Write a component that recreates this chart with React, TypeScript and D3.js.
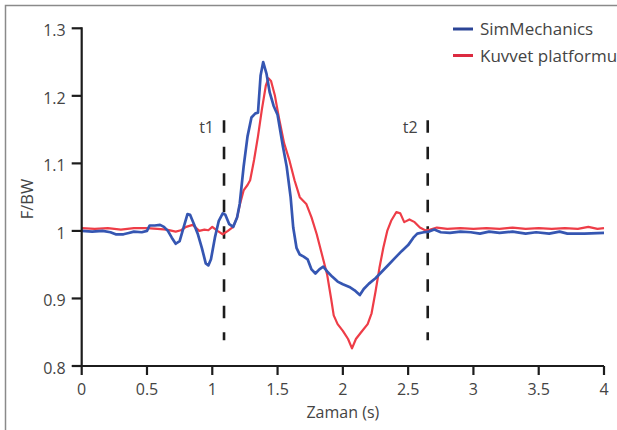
import React, { Component, CSSProperties } from 'react'
import * as d3 from 'd3'

type Sample = [number, number]

// [time (s), F/BW]
const simMechanics: Sample[] = [
    [0, 1.0], [0.08, 0.999], [0.16, 1.0], [0.22, 0.998], [0.26, 0.995], [0.32, 0.995], [0.36, 0.997],
    [0.4, 0.999], [0.46, 0.998], [0.5, 1.0], [0.52, 1.008], [0.56, 1.008], [0.6, 1.009], [0.63, 1.006],
    [0.66, 1.0], [0.69, 0.99], [0.72, 0.981], [0.75, 0.985], [0.78, 1.005], [0.81, 1.025], [0.83, 1.024],
    [0.86, 1.01], [0.89, 0.995], [0.92, 0.975], [0.95, 0.952], [0.97, 0.949], [0.99, 0.958], [1.02, 0.99],
    [1.05, 1.015], [1.08, 1.026], [1.1, 1.024], [1.13, 1.01], [1.16, 1.006], [1.19, 1.02], [1.21, 1.04],
    [1.24, 1.095], [1.27, 1.14], [1.3, 1.168], [1.33, 1.174], [1.35, 1.175], [1.37, 1.23], [1.39, 1.25],
    [1.415, 1.233], [1.44, 1.205], [1.47, 1.185], [1.5, 1.172], [1.54, 1.126], [1.57, 1.095], [1.6, 1.05],
    [1.62, 1.005], [1.645, 0.975], [1.67, 0.965], [1.7, 0.962], [1.73, 0.958], [1.76, 0.943], [1.79, 0.937],
    [1.82, 0.943], [1.85, 0.947], [1.88, 0.94], [1.92, 0.932], [1.96, 0.925], [2.0, 0.921], [2.05, 0.917],
    [2.09, 0.912], [2.13, 0.905], [2.16, 0.914], [2.2, 0.922], [2.25, 0.93], [2.3, 0.94], [2.35, 0.95],
    [2.4, 0.96], [2.45, 0.97], [2.5, 0.979], [2.54, 0.99], [2.57, 0.996], [2.62, 0.998], [2.66, 0.999],
    [2.7, 1.002], [2.75, 0.998], [2.82, 0.997], [2.9, 0.999], [2.98, 0.998], [3.05, 0.996], [3.12, 0.999],
    [3.2, 0.997], [3.3, 0.999], [3.4, 0.996], [3.48, 0.998], [3.58, 0.996], [3.66, 0.999], [3.72, 0.996],
    [3.85, 0.996], [4.0, 0.997]
]

const kuvvetPlatformu: Sample[] = [
    [0, 1.004], [0.1, 1.003], [0.2, 1.004], [0.3, 1.002], [0.4, 1.004], [0.5, 1.004], [0.58, 1.003],
    [0.65, 1.002], [0.72, 0.999], [0.76, 1.001], [0.8, 1.006], [0.85, 1.009], [0.9, 1.0], [0.94, 1.002],
    [0.97, 1.001], [1.0, 1.006], [1.04, 1.0], [1.08, 0.995], [1.12, 1.0], [1.16, 1.006], [1.19, 1.02],
    [1.21, 1.038], [1.24, 1.06], [1.27, 1.068], [1.29, 1.075], [1.32, 1.105], [1.35, 1.14], [1.38, 1.18],
    [1.41, 1.215], [1.43, 1.226], [1.45, 1.222], [1.48, 1.2], [1.51, 1.168], [1.55, 1.13], [1.59, 1.105],
    [1.63, 1.075], [1.67, 1.05], [1.72, 1.04], [1.76, 1.02], [1.8, 0.995], [1.84, 0.965], [1.88, 0.935],
    [1.91, 0.9], [1.93, 0.875], [1.96, 0.862], [2.0, 0.852], [2.04, 0.84], [2.07, 0.826], [2.1, 0.84],
    [2.14, 0.85], [2.19, 0.862], [2.22, 0.878], [2.25, 0.91], [2.28, 0.945], [2.31, 0.975], [2.34, 1.0],
    [2.37, 1.015], [2.41, 1.028], [2.44, 1.026], [2.47, 1.013], [2.51, 1.017], [2.55, 1.013], [2.59, 1.005],
    [2.63, 1.001], [2.67, 1.002], [2.72, 1.005], [2.8, 1.003], [2.9, 1.004], [3.0, 1.003], [3.1, 1.004],
    [3.2, 1.003], [3.3, 1.005], [3.4, 1.003], [3.5, 1.004], [3.6, 1.003], [3.7, 1.004], [3.8, 1.003],
    [3.88, 1.006], [3.95, 1.003], [4.0, 1.004]
]

const xTicks = [0, 0.5, 1, 1.5, 2, 2.5, 3, 3.5, 4]
const yTicks = [0.8, 0.9, 1, 1.1, 1.2, 1.3]
const phaseLabels = ['t1', 't2']
const phaseTimes = [1.09, 2.65]
const phaseSpan = [0.838, 1.164]
const legendLabels = ['SimMechanics', 'Kuvvet platformu']

interface Range {
    min: number
    max: number
}

class App extends Component {
    figureWidth: number
    figureHeight: number
    rangeX: Range
    rangeY: Range
    x: d3.ScaleLinear<number, number, never>
    y: d3.ScaleLinear<number, number, never>

    constructor(props) {
        super(props)
        this.figureWidth = 617
        this.figureHeight = 430
        this.rangeX = { min: 0, max: 4 }
        this.rangeY = { min: 0.8, max: 1.3 }

        this.x = d3.scaleLinear()
        .range([81.7, 604])
        .domain([this.rangeX.min, this.rangeX.max])

        this.y = d3.scaleLinear()
        .range([366, 28.3])
        .domain([this.rangeY.min, this.rangeY.max])
    }

    render() {
        let x = this.x
        let y = this.y
        let x0 = x(this.rangeX.min)
        let y0 = y(this.rangeY.min)
        let axisColor = '#1c1c1c'
        let textColor = '#444'
        let font = "'Open Sans', 'Noto Sans', sans-serif"
        let blue = '#3656b2'
        let red = '#ee3c47'

        let line = d3.line<Sample>()
        .x(d => x(d[0]))
        .y(d => y(d[1]))

        let svgStyle: CSSProperties = {
            position: 'absolute',
            left: 0,
            top: 0,
            background: '#fff'
        }

        return (
            <svg width={this.figureWidth} height={this.figureHeight} style={svgStyle} fontFamily={font}>
                <defs>
                    <filter id="soft" x="-5%" y="-5%" width="110%" height="110%">
                        <feGaussianBlur stdDeviation="0.45" />
                    </filter>
                </defs>

                {/* page frame */}
                <path d="M5.5,430 V5.5 H617" fill="none" stroke="#8a8a8a" strokeWidth={1.5} />

                {/* phase markers */}
                {phaseTimes.map((t, i) => (
                    <g key={`phase-${i}`}>
                        <line x1={x(t)} x2={x(t)} y1={y(phaseSpan[1])} y2={y(phaseSpan[0])}
                              stroke={axisColor} strokeWidth={2.6} strokeDasharray="12.5 14" />
                        <text x={x(t) - 10} y={133} textAnchor="end" fontSize={16} fill={textColor}>
                            {phaseLabels[i]}
                        </text>
                    </g>
                ))}

                {/* series */}
                <g filter="url(#soft)" fill="none" strokeLinejoin="round">
                    <path d={line(kuvvetPlatformu)} stroke={red} strokeWidth={2.2} />
                    <path d={line(simMechanics)} stroke={blue} strokeWidth={2.7} />
                </g>

                {/* axes */}
                <g stroke={axisColor} strokeWidth={2.2}>
                    <line x1={x0} x2={x0} y1={y(this.rangeY.max)} y2={y0} strokeLinecap="square" />
                    <line x1={x0} x2={x(this.rangeX.max)} y1={y0} y2={y0} />
                    {yTicks.map(v => (
                        <line key={`yt-${v}`} x1={x0 - 10} x2={x0} y1={y(v)} y2={y(v)} />
                    ))}
                    {xTicks.map(t => (
                        <line key={`xt-${t}`} x1={x(t)} x2={x(t)} y1={y0} y2={y0 + 9} />
                    ))}
                </g>
                <g fontSize={16} fill={textColor}>
                    {yTicks.map(v => (
                        <text key={`yl-${v}`} x={x0 - 16} y={y(v) + 8} textAnchor="end">{d3.format('~g')(v)}</text>
                    ))}
                    {xTicks.map(t => (
                        <text key={`xl-${t}`} x={x(t)} y={395} textAnchor="middle">{d3.format('~g')(t)}</text>
                    ))}
                </g>
                <text x={(x0 + x(this.rangeX.max)) / 2} y={418} textAnchor="middle" fontSize={16} fill={textColor}>
                    Zaman (s)
                </text>
                <text transform="translate(33,199) rotate(-90)" textAnchor="middle" fontSize={16.5} fill={textColor}>
                    F/BW
                </text>

                {/* legend */}
                {legendLabels.map((label, i) => (
                    <g key={`legend-${i}`} transform={`translate(453, ${29 + i * 26.5})`}>
                        <line x1={0} x2={20} y1={0} y2={0} stroke={i === 0 ? '#2b4496' : '#dc2a40'} strokeWidth={3} />
                        <text x={27} y={6} fontSize={17} fill={textColor}>{label}</text>
                    </g>
                ))}
            </svg>
        )
    }
}

export default App
